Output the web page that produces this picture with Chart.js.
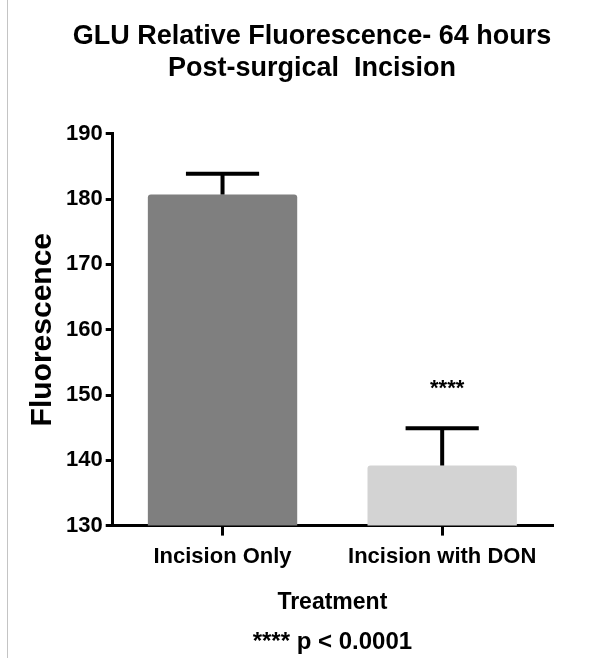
<!DOCTYPE html>
<html>
<head>
<meta charset="utf-8">
<script src="https://cdn.jsdelivr.net/npm/chart.js@4.4.1/dist/chart.umd.min.js"></script>
<style>
  html, body { margin: 0; padding: 0; background: #fff; }
  #wrap { position: relative; width: 614px; height: 658px; }
  #edge { position: absolute; left: 7px; top: 0; width: 1px; height: 658px; background: #c4c4c4; }
</style>
</head>
<body>
<div id="wrap">
  <canvas id="c" width="614" height="658"></canvas>
  <div id="edge"></div>
</div>
<script>
const categories = ['Incision Only', 'Incision with DON'];
const meanValues = [180.7, 139.2];
const semValues = [3.2, 5.7];
const significance = ['', '****'];
const barColors = ['#7f7f7f', '#d3d3d3'];
const yTicks = [130, 140, 150, 160, 170, 180, 190];
const titleLines = ['GLU Relative Fluorescence- 64 hours', 'Post-surgical  Incision'];
const xTitle = 'Treatment';
const yTitle = 'Fluorescence';
const footNote = '**** p < 0.0001';

const FONT = "'Liberation Sans', Arial, sans-serif";

const errorBarPlugin = {
  id: 'errorBars',
  afterDatasetsDraw(chart) {
    const ctx = chart.ctx;
    const meta = chart.getDatasetMeta(0);
    const yScale = chart.scales.y;
    ctx.save();
    ctx.strokeStyle = '#000';
    ctx.lineWidth = 4;
    ctx.lineCap = 'butt';
    meta.data.forEach((bar, i) => {
      const top = yScale.getPixelForValue(meanValues[i]);
      const up = yScale.getPixelForValue(meanValues[i] + semValues[i]);
      const half = bar.width * 0.245;
      ctx.beginPath();
      ctx.moveTo(bar.x, top);
      ctx.lineTo(bar.x, up);
      ctx.moveTo(bar.x - half, up);
      ctx.lineTo(bar.x + half, up);
      ctx.stroke();
      if (significance[i]) {
        ctx.fillStyle = '#000';
        ctx.font = 'bold 22px ' + FONT;
        ctx.textAlign = 'center';
        ctx.textBaseline = 'middle';
        ctx.fillText(significance[i], bar.x + 5, up - 39);
      }
    });
    ctx.restore();
  }
};

new Chart(document.getElementById('c'), {
  type: 'bar',
  data: {
    labels: categories,
    datasets: [{
      data: meanValues,
      backgroundColor: barColors,
      borderWidth: 0,
      borderRadius: 3,
      borderSkipped: 'bottom',
      barPercentage: 0.68,
      categoryPercentage: 1.0
    }]
  },
  options: {
    responsive: false,
    animation: false,
    layout: { padding: { left: 20, right: 10, top: 0, bottom: 2 } },
    plugins: {
      legend: { display: false },
      tooltip: { enabled: false },
      title: {
        display: true,
        text: titleLines,
        color: '#000',
        font: { family: FONT, size: 27, weight: 'bold', lineHeight: 1.2 },
        padding: { top: 20, bottom: 49 }
      },
      subtitle: {
        display: true,
        position: 'bottom',
        fullSize: false,
        text: footNote,
        color: '#000',
        font: { family: FONT, size: 24, weight: 'bold', lineHeight: 1.1 },
        padding: { top: 0, bottom: 0 }
      }
    },
    scales: {
      x: {
        grid: { display: true, drawOnChartArea: false, drawTicks: true, offset: false, tickLength: 10, color: '#000', lineWidth: 3 },
        border: { display: true, color: '#000', width: 3 },
        ticks: { color: '#000', padding: 8, font: { family: FONT, size: 22, weight: 'bold' } },
        title: {
          display: true, text: xTitle, color: '#000',
          font: { family: FONT, size: 23, weight: 'bold', lineHeight: 1.2 },
          padding: { top: 11, bottom: 13 }
        }
      },
      y: {
        min: 130, max: 190,
        afterBuildTicks(scale) { scale.ticks = yTicks.map(v => ({ value: v })); },
        grid: { display: true, drawOnChartArea: false, drawTicks: true, tickLength: 7, color: '#000', lineWidth: 3 },
        border: { display: true, color: '#000', width: 3 },
        ticks: { color: '#000', padding: 3, font: { family: FONT, size: 22, weight: 'bold' } },
        title: {
          display: true, text: yTitle, color: '#000',
          font: { family: FONT, size: 30, weight: 'bold', lineHeight: 1.2 },
          padding: { top: 5, bottom: 2 }
        }
      },
      yRight: {
        position: 'right',
        display: true,
        grid: { display: false },
        border: { display: false },
        ticks: { display: false },
        afterFit(scale) { scale.width = 52; }
      }
    }
  },
  plugins: [errorBarPlugin]
});
</script>
</body>
</html>
